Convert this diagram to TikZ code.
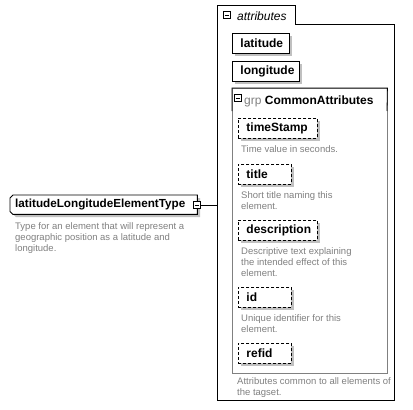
\documentclass[tikz,border=0pt]{standalone}
\usepackage{fontspec}
\setmainfont{Liberation Sans}
\usetikzlibrary{shadows}
\definecolor{shadowgrey}{RGB}{192,192,192}
\definecolor{descgrey}{RGB}{128,128,128}
\definecolor{grpgrey}{RGB}{128,128,128}
\tikzset{
  x=1pt, y=-1pt,
  attrbox/.style={draw=black, line width=0.9pt, fill=white, anchor=north west, minimum height=20pt,
    inner xsep=0pt, inner ysep=0pt, font=\bfseries\fontsize{12}{14}\selectfont,
    drop shadow={shadow xshift=3pt, shadow yshift=-3pt, fill=shadowgrey, opacity=1}},
  optbox/.style={attrbox, dashed, dash pattern=on 3pt off 2pt},
  desc/.style={anchor=north west, align=left, inner sep=0pt, text=descgrey,
    font=\fontsize{9.5}{11}\selectfont},
  minusbox/.style={draw=black, line width=0.6pt, fill=white, minimum size=7.5pt, inner sep=0pt},
}
\newcommand{\boxtext}[2]{\makebox[#1][l]{\hspace{8pt}#2}}
\begin{document}
\begin{tikzpicture}
\useasboundingbox (0,0) rectangle (413,410);
% ---- main element ----
\fill[shadowgrey] (16,198) -- (200,198) -- (200,217) -- (16,217) -- (13,214) -- (13,201) -- cycle;
\node[anchor=north west, minimum width=187pt, minimum height=19pt, inner sep=0pt] (main) at (10,195) {};
\draw[line width=0.9pt, fill=white] ([xshift=3pt]main.north west) -- (main.north east) -- (main.south east)
  -- ([xshift=3pt]main.south west) -- ([yshift=3pt]main.south west) -- ([yshift=-3pt]main.north west) -- cycle;
\node[anchor=west, inner sep=0pt, font=\bfseries\fontsize{11.7}{14}\selectfont] (maintext) at ([xshift=5pt]main.west) {latitudeLongitudeElementType};
\node[minusbox] (mm) at (197,205) {};
\draw[line width=0.6pt] ([xshift=-2.3pt]mm.center) -- ([xshift=2.3pt]mm.center);
\node[desc] (maindesc) at (15,222) {Type for an element that will represent a\\geographic position as a latitude and\\longitude.};
% ---- attributes outer box ----
\node[anchor=north west, minimum width=177pt, minimum height=376pt, inner sep=0pt] (outer) at (217,24) {};
\draw[line width=0.9pt] (295,24) -- (outer.north east) -- (outer.south east) -- (outer.south west) -- (217,5) -- (295,5) -- cycle;
\node[minusbox] (am) at (227,15) {};
\draw[line width=0.6pt] ([xshift=-2.3pt]am.center) -- ([xshift=2.3pt]am.center);
\node[anchor=base west, inner sep=0pt, font=\itshape\fontsize{12}{14}\selectfont] (attrlabel) at (237,20) {attributes};
\draw[line width=0.9pt] (mm.east) -- (mm.east -| outer.west);
% ---- attributes ----
\node[attrbox] (lat) at (232,33) {\boxtext{57pt}{latitude}};
\node[attrbox] (lon) at (232,61) {\boxtext{67pt}{longitude}};
% ---- group ----
\node[anchor=north west, minimum width=155pt, minimum height=285pt, inner sep=0pt] (grp) at (232,88) {};
\draw[grpgrey, line width=0.8pt] (grp.north west) rectangle (grp.south east);
\draw[line width=0.8pt] (232,111) -- (grp.north west) -- (grp.north east) -- (387,111);
\node[minusbox] (gm) at (238,98) {};
\draw[line width=0.6pt] ([xshift=-2.3pt]gm.center) -- ([xshift=2.3pt]gm.center);
\node[anchor=base west, inner sep=0pt, font=\fontsize{12}{14}\selectfont] (grplabel) at (244,104)
  {\textcolor{grpgrey}{grp} \textbf{CommonAttributes}};
\node[optbox] (ts) at (238,118) {\boxtext{79pt}{timeStamp}};
\node[desc] (tsdesc) at (241,145) {Time value in seconds.};
\node[optbox] (title) at (238,164) {\boxtext{53pt}{title}};
\node[desc] (titledesc) at (241,191) {Short title naming this\\element.};
\node[optbox] (descr) at (238,220) {\boxtext{79pt}{description}};
\node[desc] (descrdesc) at (241,247) {Descriptive text explaining\\the intended effect of this\\element.};
\node[optbox] (id) at (238,287) {\boxtext{53pt}{id}};
\node[desc] (iddesc) at (241,314) {Unique identifier for this\\element.};
\node[optbox] (refid) at (238,343) {\boxtext{53pt}{refid}};
\node[desc] (outerdesc) at (237,377) {Attributes common to all elements of\\the tagset.};
\end{tikzpicture}
\end{document}
